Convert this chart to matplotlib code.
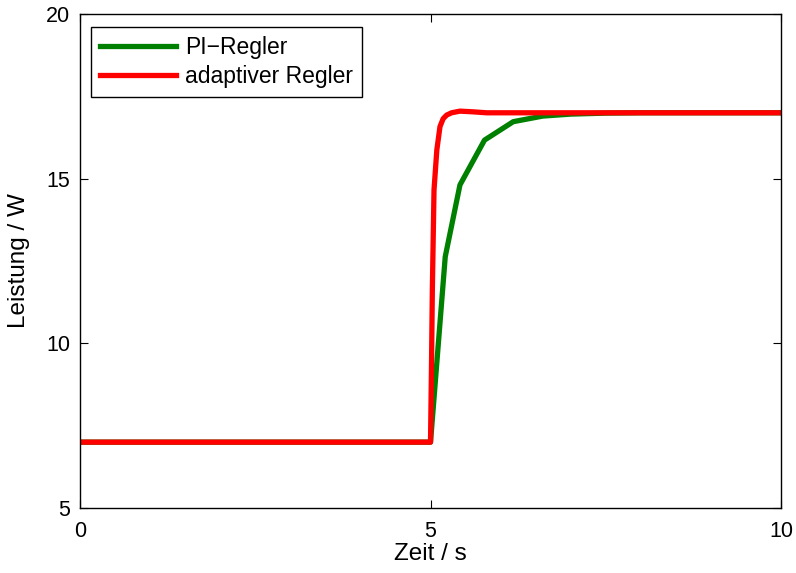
import matplotlib.pyplot as plt

plt.rcParams['font.family'] = ['Liberation Sans', 'DejaVu Sans']
plt.rcParams['font.size'] = 15

# Sprungantwort PI-Regler
t_pi = [0, 5.0, 5.21, 5.42, 5.77, 6.18, 6.6, 7.0, 7.5, 8.0, 10]
p_pi = [7, 7, 12.63, 14.81, 16.17, 16.73, 16.9, 16.96, 16.99, 17.0, 17.0]

# Sprungantwort adaptiver Regler
t_ad = [0, 5.0, 5.015, 5.026, 5.05, 5.09, 5.135, 5.18, 5.23, 5.3, 5.42, 5.6, 5.8, 6.5, 10]
p_ad = [7, 7, 9.5, 11.62, 14.66, 15.87, 16.58, 16.82, 16.93, 17.0, 17.05, 17.03, 17.0, 17.0, 17.0]

fig = plt.figure(figsize=(7.96, 5.73), dpi=100)
ax = fig.add_axes([0.1005, 0.1134, 0.8807, 0.8622])

ax.plot(t_pi, p_pi, color='green', lw=3.8, label='PI\u2212Regler')
ax.plot(t_ad, p_ad, color='red', lw=3.8, label='adaptiver Regler')

ax.set_xlim(0, 10)
ax.set_ylim(5, 20)
ax.set_xticks([0, 5, 10])
ax.set_yticks([5, 10, 15, 20])
ax.tick_params(direction='in', top=True, right=True, length=6, labelsize=15.5)
ax.tick_params(axis='x', pad=9)
ax.tick_params(axis='y', pad=7)
for s in ax.spines.values():
    s.set_linewidth(1.0)

ax.set_xlabel('Zeit / s', fontsize=17.5, labelpad=1)
ax.set_ylabel('Leistung / W', fontsize=17.5, labelpad=11.5)

leg = ax.legend(loc='upper left', bbox_to_anchor=(0.0157, 0.9737), borderaxespad=0,
                fancybox=False, edgecolor='black', framealpha=1, fontsize=16.5,
                handlelength=3.3, handletextpad=0.4, borderpad=0.4, labelspacing=0.25)
leg.get_frame().set_linewidth(1.0)

fig.savefig('out.png', dpi=100)
